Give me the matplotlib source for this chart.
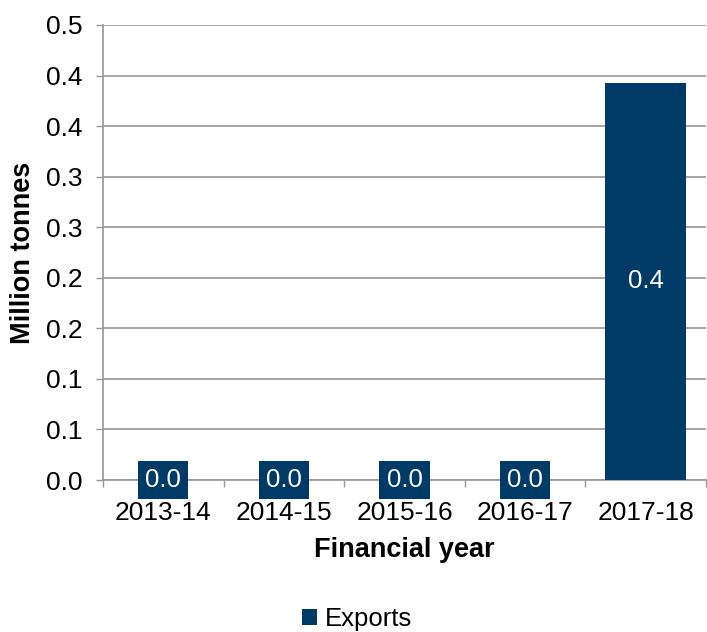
import matplotlib
matplotlib.use("Agg")
import matplotlib.pyplot as plt
from matplotlib.patches import Patch
import numpy as np

categories = ["2013-14", "2014-15", "2015-16", "2016-17", "2017-18"]
exports = [0.0, 0.0, 0.0, 0.0, 0.393]
bar_labels = ["0.0", "0.0", "0.0", "0.0", "0.4"]
ytick_values = [0.0, 0.05, 0.10, 0.15, 0.20, 0.25, 0.30, 0.35, 0.40, 0.45]
ytick_labels = ["0.0", "0.1", "0.1", "0.2", "0.2", "0.3", "0.3", "0.4", "0.4", "0.5"]

plt.rcParams['font.family'] = ['Liberation Sans', 'DejaVu Sans']
bar_color = "#003a66"
grid_color = "#969696"

fig = plt.figure(figsize=(7.07, 6.32), dpi=100)
ax = fig.add_axes([0.1457, 0.2405, 0.853, 0.72])

x = np.arange(len(categories))
ax.bar(x, exports, width=0.67, color=bar_color, zorder=3)
for xi, v, lab in zip(x, exports, bar_labels):
    ax.text(xi, v / 2, lab, ha="center", va="center", color="white", fontsize=18.5,
            zorder=4,
            bbox=dict(boxstyle="square,pad=0.28", fc=bar_color, ec="none"))

ax.set_xlim(-0.5, len(categories) - 0.5)
ax.set_ylim(0, 0.45)
ax.set_yticks(ytick_values)
ax.set_yticklabels(ytick_labels, fontsize=19)
ax.set_xticks(x)
ax.set_xticklabels(categories, fontsize=19)
ax.set_xticks(np.arange(len(categories) + 1) - 0.5, minor=True)
ax.tick_params(axis="x", which="major", length=0, pad=15)
ax.tick_params(axis="x", which="minor", length=5, width=1, color=grid_color)
ax.tick_params(axis="y", which="major", length=5, width=1, color=grid_color, pad=10)

ax.yaxis.grid(True, color=grid_color, linewidth=1.2, zorder=0)
ax.set_axisbelow(True)
for s in ["top", "right"]:
    ax.spines[s].set_visible(False)
for s in ["left", "bottom"]:
    ax.spines[s].set_color(grid_color)
    ax.spines[s].set_linewidth(1.2)

ax.set_ylabel("Million tonnes", fontsize=19.5, fontweight="bold", labelpad=7)
ax.set_xlabel("Financial year", fontsize=19.5, fontweight="bold", labelpad=9)

fig.legend(handles=[Patch(facecolor=bar_color, label="Exports")],
           loc="center", bbox_to_anchor=(0.505, 0.02), frameon=False,
           fontsize=18.5, handlelength=0.6, handleheight=0.6, handletextpad=0.3)

fig.savefig("out.png", dpi=100)
